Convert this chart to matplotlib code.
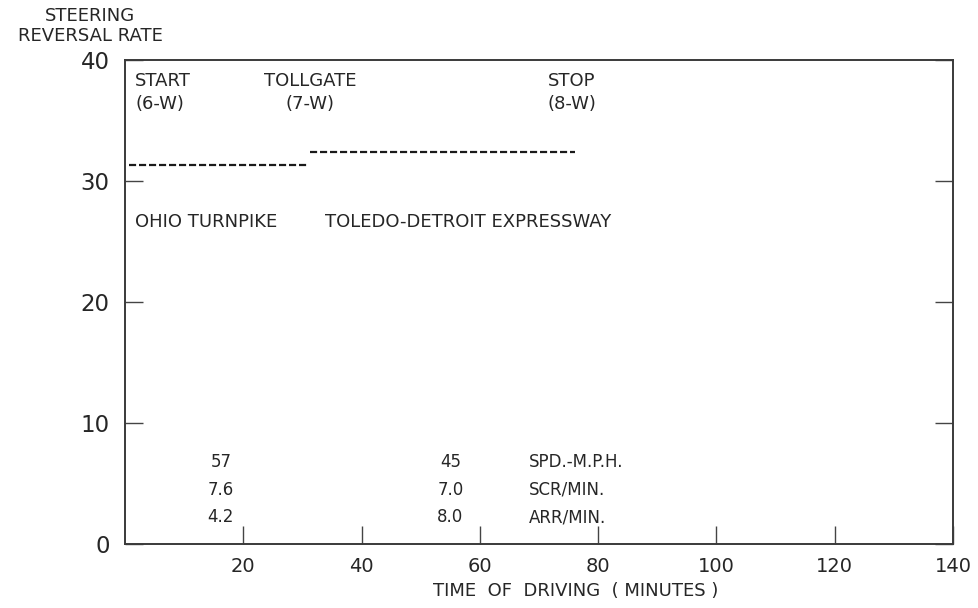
import matplotlib.pyplot as plt

# steering reversal rate per road segment (minutes of driving)
seg_start = [0.6, 31.3]
seg_end = [30.8, 76.1]
seg_rate = [31.3, 32.4]

# checkpoint labels above the segments
stops = ["START\n(6-W)", "TOLLGATE\n(7-W)", "STOP\n(8-W)"]
stop_x = [1.7, 31.3, 75.6]

roads = ["OHIO TURNPIKE", "TOLEDO-DETROIT EXPRESSWAY"]
road_x = [1.7, 33.8]

# per-segment summary figures
summary_names = ["SPD.-M.P.H.", "SCR/MIN.", "ARR/MIN."]
turnpike_vals = ["57", "7.6", "4.2"]
expressway_vals = ["45", "7.0", "8.0"]
summary_y = [6.8, 4.5, 2.2]

x_ticks = [20, 40, 60, 80, 100, 120, 140]
y_ticks = [0, 10, 20, 30, 40]

ink = "#262626"
plt.rcParams["font.family"] = ["DejaVu Sans"]

fig = plt.figure(figsize=(9.79, 6.08), dpi=100)
ax = fig.add_axes([125 / 979, 1 - 544 / 608, 828 / 979, 484 / 608])

for x0, x1, r in zip(seg_start, seg_end, seg_rate):
    ax.plot([x0, x1], [r, r], color="#1a1a1a", lw=1.6, dashes=[3.2, 1.3])

for s, x in zip(stops, stop_x):
    ha = "left" if x < 5 else "center"
    ax.text(x, 39.0, s, ha=ha, va="top", fontsize=13, color=ink,
            linespacing=1.35)

for r, x in zip(roads, road_x):
    ax.text(x, 26.6, r, ha="left", va="center", fontsize=13, color=ink)

for name, a, b, y in zip(summary_names, turnpike_vals, expressway_vals, summary_y):
    ax.text(16.2, y, a, ha="center", va="center", fontsize=12, color=ink)
    ax.text(55.0, y, b, ha="center", va="center", fontsize=12, color=ink)
    ax.text(68.3, y, name, ha="left", va="center", fontsize=12, color=ink)

ax.set_xlim(0, 140)
ax.set_ylim(0, 40)
ax.set_xticks(x_ticks)
ax.set_yticks(y_ticks)
ax.tick_params(axis="both", direction="in", length=13, width=1.0,
               color="#444444", labelcolor=ink)
ax.tick_params(axis="x", labelsize=14, pad=9)
ax.tick_params(axis="y", labelsize=16.5, pad=11, right=True)
for sp in ax.spines.values():
    sp.set_linewidth(1.4)
    sp.set_color("#3a3a3a")

fig.text(90 / 979, 1 - 26 / 608, "STEERING\nREVERSAL RATE", ha="center",
         va="center", fontsize=13, color=ink, linespacing=1.2)
fig.text(576 / 979, 1 - 591 / 608, "TIME  OF  DRIVING  ( MINUTES )",
         ha="center", va="center", fontsize=13, color=ink)

fig.savefig("out.png", dpi=100)
